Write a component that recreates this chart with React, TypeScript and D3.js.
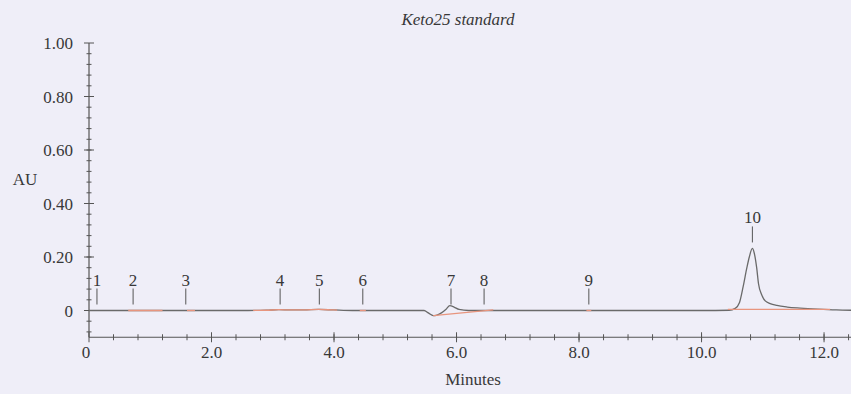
import React, { useEffect, useRef } from 'react';
import * as d3 from 'd3';

// chromatogram trace (minutes, AU)
const traceTime = [0, 0.5, 1.0, 1.5, 2.0, 2.6, 2.9, 3.1, 3.3, 3.5, 3.75, 4.0, 4.3, 5.0, 5.47, 5.54, 5.62, 5.68, 5.76, 5.83, 5.89, 5.96, 6.04, 6.2, 7.0, 8.0, 9.0, 10.0, 10.45, 10.55, 10.62, 10.68, 10.74, 10.78, 10.83, 10.86, 10.9, 10.93, 10.98, 11.04, 11.12, 11.23, 11.4, 11.61, 11.9, 12.2, 12.44];
const traceAU = [0, 0, 0, 0, 0, 0, 0.001, 0.003, 0.002, 0.002, 0.004, 0.002, 0, 0, 0, -0.009, -0.019, -0.017, -0.008, 0.005, 0.018, 0.013, 0.004, 0, 0, 0, 0, 0, 0.001, 0.008, 0.03, 0.09, 0.16, 0.2, 0.232, 0.215, 0.16, 0.1, 0.06, 0.036, 0.026, 0.019, 0.013, 0.009, 0.005, 0.002, 0.001];

// integrated regions drawn over the trace
const overlayStart = [0.64, 1.6, 2.68, 4.42, 8.12];
const overlayEnd = [1.2, 1.73, 4.05, 4.52, 8.2];

// straight integration baselines
const baseT0 = [5.62, 10.43];
const baseAU0 = [-0.019, 0.004];
const baseT1 = [6.6, 12.1];
const baseAU1 = [0.002, 0.004];

// peak labels
const peakLabels = ['1', '2', '3', '4', '5', '6', '7', '8', '9', '10'];
const peakTime = [0.13, 0.72, 1.58, 3.12, 3.76, 4.47, 5.91, 6.45, 8.16, 10.83];
const peakAU = [0, 0, 0, 0, 0, 0, 0, 0, 0, 0.232];

const xTickValues = [0, 2, 4, 6, 8, 10, 12];
const xTickLabels = ['0', '2.0', '4.0', '6.0', '8.0', '10.0', '12.0'];
const yTickValues = [0, 0.2, 0.4, 0.6, 0.8, 1.0];
const yTickLabels = ['0', '0.20', '0.40', '0.60', '0.80', '1.00'];

const App = () => {
    const svgRef = useRef(null);

    useEffect(() => {
        const svg = d3.select(svgRef.current);
        svg.selectAll('*').remove();

        const width = 851;
        const height = 394;
        const font = '"Liberation Serif", "Times New Roman", serif';
        const axisColor = '#555';
        const textColor = '#383838';

        const x = d3.scaleLinear().domain([0, 12.44]).range([89, 851]);
        const y = d3.scaleLinear().domain([-0.1, 1.0]).range([337.25, 43]);

        svg.append('rect').attr('width', width).attr('height', height).attr('fill', '#efeef8');

        // axes lines
        svg.append('line')
            .attr('x1', x(0)).attr('x2', x(0))
            .attr('y1', y(1.0)).attr('y2', y(-0.1))
            .attr('stroke', axisColor).attr('stroke-width', 1.2);
        svg.append('line')
            .attr('x1', x(0)).attr('x2', width)
            .attr('y1', y(-0.1)).attr('y2', y(-0.1))
            .attr('stroke', axisColor).attr('stroke-width', 1.2);

        // y ticks
        const yMinor = d3.range(-0.08, 1.0, 0.04);
        svg.selectAll('.ymin').data(yMinor).join('line')
            .attr('x1', x(0) - 2.5).attr('x2', x(0) + 2.5)
            .attr('y1', d => y(d)).attr('y2', d => y(d))
            .attr('stroke', axisColor);
        svg.selectAll('.ymaj').data(yTickValues).join('line')
            .attr('x1', x(0) - 5).attr('x2', x(0) + 5)
            .attr('y1', d => y(d)).attr('y2', d => y(d))
            .attr('stroke', axisColor);
        svg.selectAll('.ylab').data(yTickValues).join('text')
            .attr('x', 73).attr('y', d => y(d) + 6)
            .attr('text-anchor', 'end')
            .attr('font-family', font).attr('font-size', 17)
            .attr('fill', textColor)
            .text((d, i) => yTickLabels[i]);

        // x ticks
        const xMinor = d3.range(0.4, 12.44, 0.4);
        svg.selectAll('.xmin').data(xMinor).join('line')
            .attr('x1', d => x(d)).attr('x2', d => x(d))
            .attr('y1', y(-0.1) - 3).attr('y2', y(-0.1) + 3)
            .attr('stroke', axisColor);
        svg.selectAll('.xmaj').data(xTickValues).join('line')
            .attr('x1', d => x(d)).attr('x2', d => x(d))
            .attr('y1', y(-0.1) - 5).attr('y2', y(-0.1) + 5)
            .attr('stroke', axisColor);
        svg.selectAll('.xlab').data(xTickValues).join('text')
            .attr('x', d => x(d) - (d === 0 ? 3 : 0)).attr('y', 358)
            .attr('text-anchor', 'middle')
            .attr('font-family', font).attr('font-size', 17)
            .attr('fill', textColor)
            .text((d, i) => xTickLabels[i]);

        // axis titles
        svg.append('text')
            .attr('x', 25).attr('y', 185)
            .attr('text-anchor', 'middle')
            .attr('font-family', font).attr('font-size', 17)
            .attr('fill', textColor)
            .text('AU');
        svg.append('text')
            .attr('x', 473).attr('y', 385)
            .attr('text-anchor', 'middle')
            .attr('font-family', font).attr('font-size', 17)
            .attr('fill', textColor)
            .text('Minutes');
        svg.append('text')
            .attr('x', 458).attr('y', 25)
            .attr('text-anchor', 'middle')
            .attr('font-family', font).attr('font-size', 17)
            .attr('font-style', 'italic')
            .attr('fill', textColor)
            .text('Keto25 standard');

        // trace
        const pts = traceTime.map((t, i) => [t, traceAU[i]]);
        const line = d3.line()
            .x(d => x(d[0]))
            .y(d => y(d[1]))
            .curve(d3.curveMonotoneX);

        svg.append('path')
            .attr('d', line(pts))
            .attr('fill', 'none')
            .attr('stroke', '#6a6a6a')
            .attr('stroke-width', 1.3);

        // coloured overlays on integrated parts of the trace
        const orange = '#e8957e';
        overlayStart.forEach((t0, i) => {
            const t1 = overlayEnd[i];
            const inner = pts.filter(p => p[0] > t0 && p[0] < t1);
            const interp = t => {
                const j = d3.bisector(p => p[0]).left(pts, t);
                const a = pts[Math.max(0, j - 1)], b = pts[Math.min(pts.length - 1, j)];
                if (b[0] === a[0]) return a[1];
                return a[1] + (b[1] - a[1]) * (t - a[0]) / (b[0] - a[0]);
            };
            const seg = [[t0, interp(t0)], ...inner, [t1, interp(t1)]];
            svg.append('path')
                .attr('d', line(seg))
                .attr('fill', 'none')
                .attr('stroke', orange)
                .attr('stroke-width', 1.3);
        });

        baseT0.forEach((t0, i) => {
            svg.append('line')
                .attr('x1', x(t0)).attr('y1', y(baseAU0[i]))
                .attr('x2', x(baseT1[i])).attr('y2', y(baseAU1[i]))
                .attr('stroke', orange)
                .attr('stroke-width', 1.3);
        });

        // peak labels
        peakLabels.forEach((lab, i) => {
            const px = x(peakTime[i]);
            const bottom = y(peakAU[i]) - 6;
            const top = bottom - 16;
            svg.append('line')
                .attr('x1', px).attr('x2', px)
                .attr('y1', top).attr('y2', bottom)
                .attr('stroke', '#555');
            svg.append('text')
                .attr('x', px).attr('y', top - 3)
                .attr('text-anchor', 'middle')
                .attr('font-family', font).attr('font-size', 17)
                .attr('fill', textColor)
                .text(lab);
        });
    }, []);

    return (
        <svg ref={svgRef} width={851} height={394}
            style={{ position: 'absolute', left: 0, top: 0, display: 'block' }}></svg>
    );
};

export default App;
